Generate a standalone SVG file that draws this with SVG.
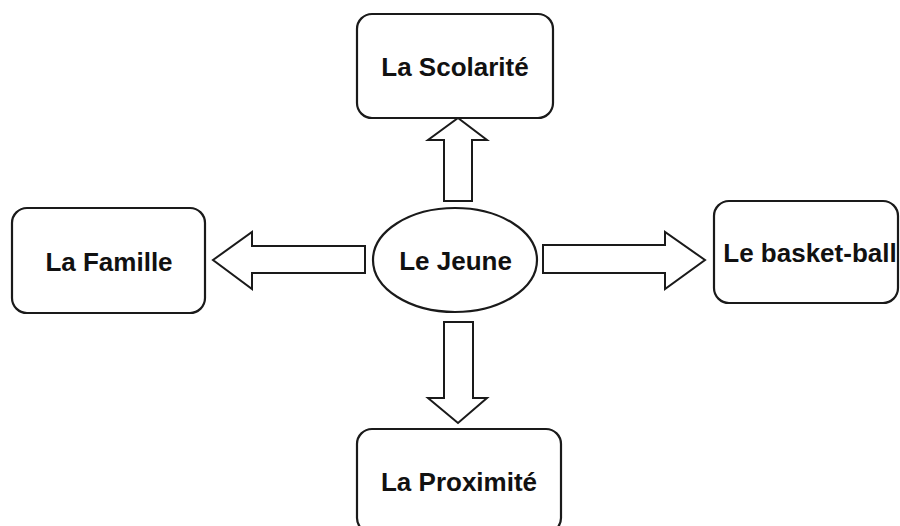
<svg xmlns="http://www.w3.org/2000/svg" width="900" height="526" viewBox="0 0 900 526">
<style>
.box{fill:#fff;stroke:#1a1a1a;stroke-width:2.2}
.arr{fill:#fff;stroke:#1a1a1a;stroke-width:2;stroke-linejoin:miter}
.lbl{font-family:"Liberation Sans",Arial,sans-serif;font-weight:bold;font-size:26px;fill:#111;text-anchor:middle}
</style>
<rect width="900" height="526" fill="#fff"/>
<g id="connectors">
<polygon class="arr" points="444,201 444,140 428,140 458,118 487,140 472,140 472,201"/>
<polygon class="arr" points="365,246 252,246 252,232 213,260 252,289 252,273 365,273"/>
<polygon class="arr" points="543,245 665,245 665,232 705,260 665,289 665,273 543,273"/>
<polygon class="arr" points="444,322 473,322 473,398 487,398 458,423 428,398 444,398"/>
</g>
<g id="node-jeune">
<ellipse class="box" cx="455" cy="260" rx="82" ry="52"/>
<text class="lbl" x="455.5" y="270">Le Jeune</text>
</g>
<g id="node-scolarite">
<rect class="box" x="357" y="14" width="196" height="104" rx="15"/>
<text class="lbl" x="455" y="76">La Scolarité</text>
</g>
<g id="node-famille">
<rect class="box" x="12" y="208" width="193" height="105" rx="15"/>
<text class="lbl" x="109" y="271">La Famille</text>
</g>
<g id="node-basket">
<rect class="box" x="714" y="201" width="184" height="102" rx="15"/>
<text class="lbl" x="810" y="262">Le basket-ball</text>
</g>
<g id="node-proximite">
<rect class="box" x="357" y="429" width="204" height="104" rx="15"/>
<text class="lbl" x="459" y="491">La Proximité</text>
</g>
</svg>
